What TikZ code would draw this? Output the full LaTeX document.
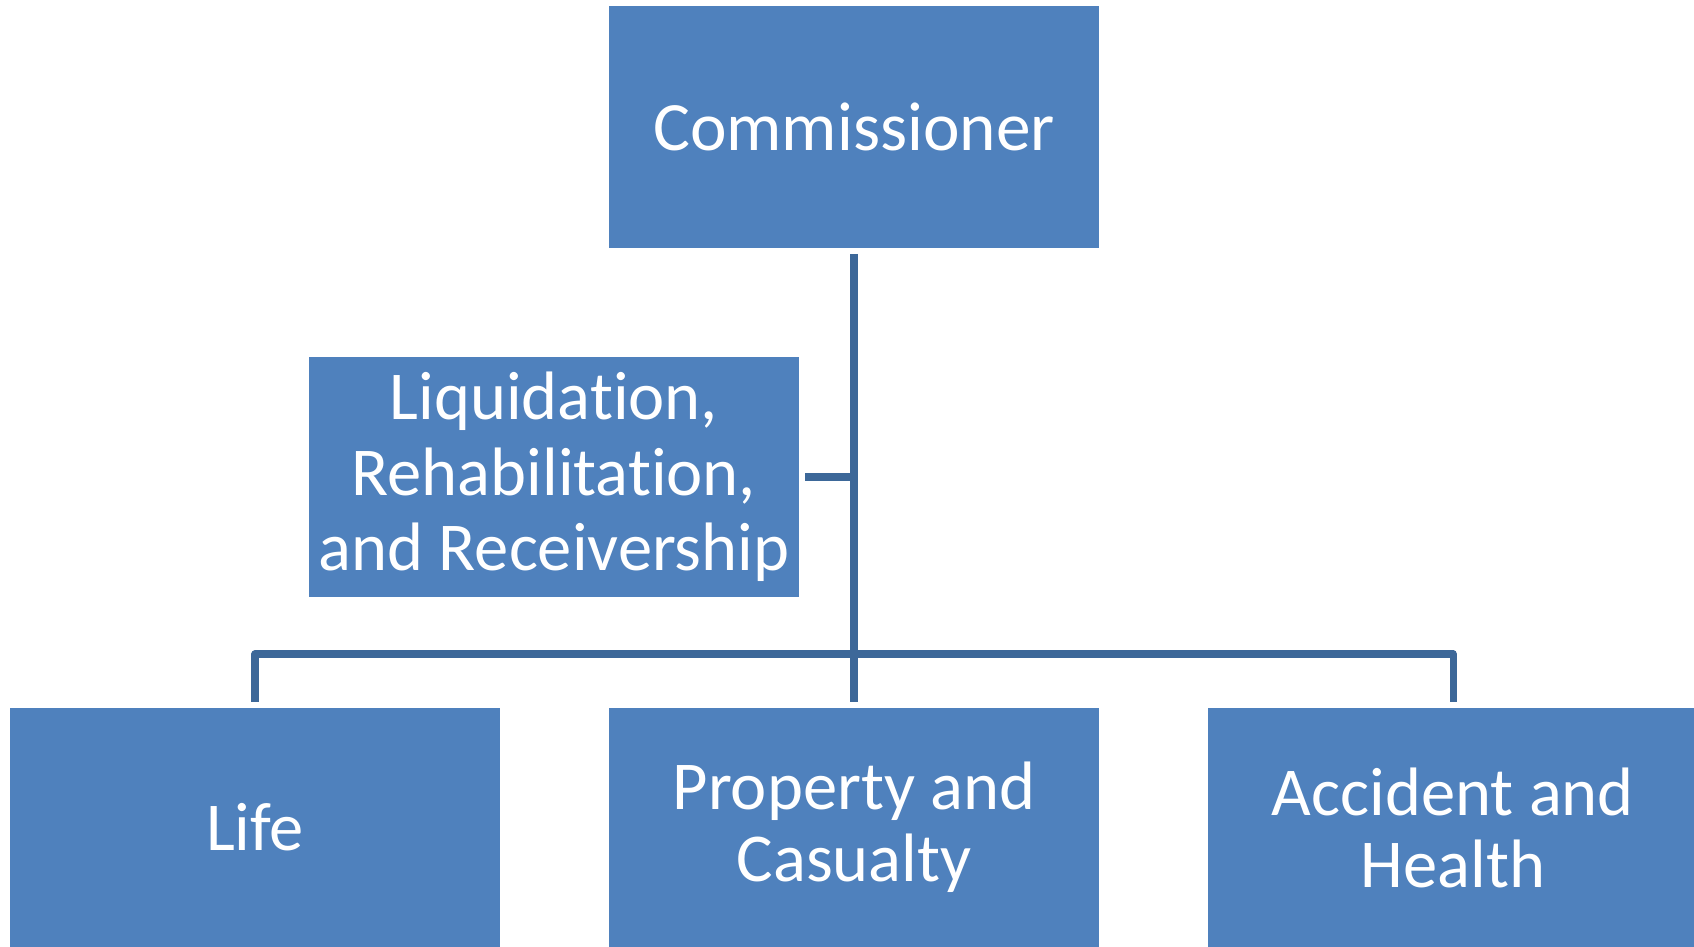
\documentclass[tikz,border=0pt]{standalone}
\usepackage{fontspec}
\setmainfont{Carlito}[Ligatures=NoCommon]
\usetikzlibrary{calc}
\definecolor{boxblue}{HTML}{4F81BD}
\definecolor{linkblue}{HTML}{3D6899}

\begin{document}
\begin{tikzpicture}[
  unit/.style={fill=boxblue, text=white, minimum width=4.9cm, minimum height=2.42cm, align=center, inner sep=0pt, outer sep=0.06cm, font=\fontsize{19.5}{21.5}\selectfont},
  link/.style={draw=linkblue, line width=2pt, line join=round}]
\useasboundingbox (0,0) rectangle (16.94,9.47);
\node[unit, font=\fontsize{19.7}{22}\selectfont] (boss) at (8.54,8.20) {Commissioner};
\node[unit, minimum height=2.40cm] (liq) at (5.54,4.70) {Liquidation,\\Rehabilitation,\\and Receivership};
\foreach \x/\n/\t in {2.55/life/Life, 8.54/prop/{Property and\\Casualty}, 14.53/acc/{Accident and\\Health}}
 \node[unit, minimum height=2.39cm, font=\fontsize{19.5}{20.5}\selectfont] (\n) at (\x,1.195) {\t};
% connectors
\coordinate (bus) at (8.54,2.93);
\draw[link] (boss) -- (prop);
\draw[link] (liq.east) -- (liq.east -| boss.south);
\draw[link] (life.north) |- (bus) -| (acc.north);
\end{tikzpicture}
\end{document}
